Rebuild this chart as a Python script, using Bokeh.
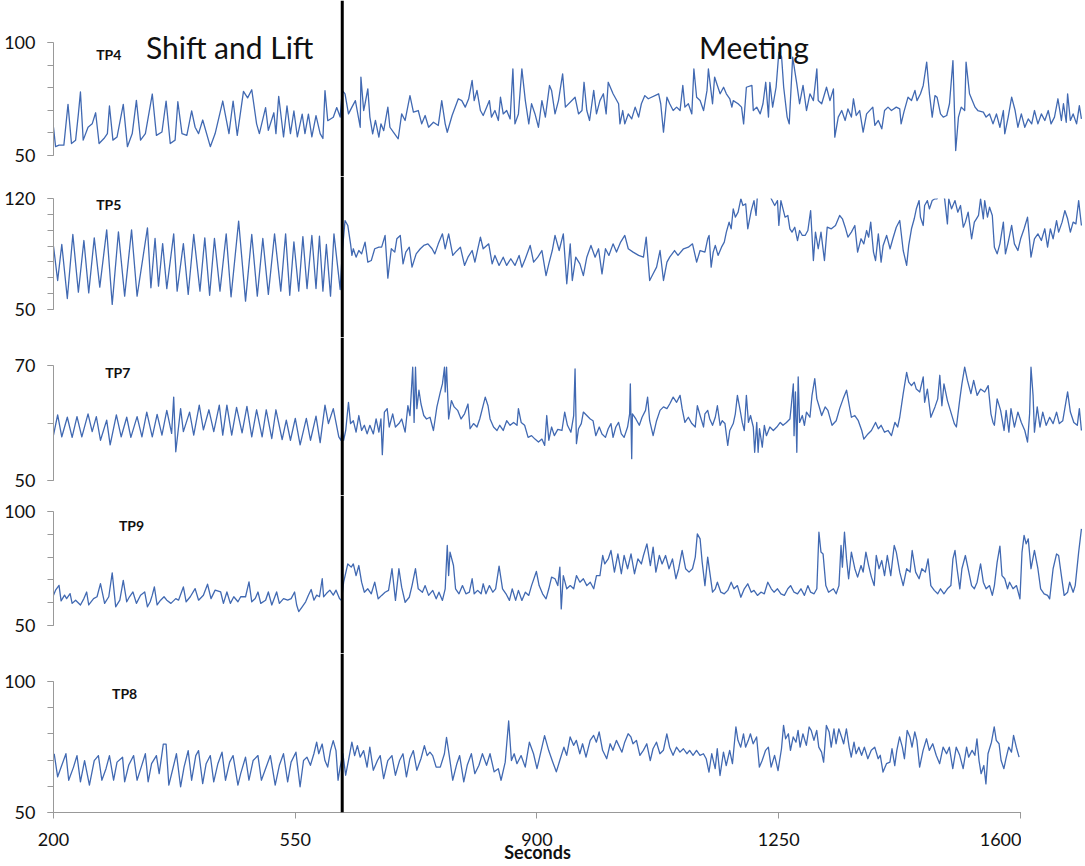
from bokeh.plotting import figure
from bokeh.models import Range1d, FixedTicker, Span, Label, BoxAnnotation
from bokeh.layouts import column
from bokeh.embed import file_html
from bokeh.resources import INLINE

# ---------------- data (seconds, value) ----------------
TP4 = [(200,62.5),(203,53.9),(208,54.6),(215,54.6),(220,69.7),(221,72.6),(226,55.3),(232,56.8),(236,68.3),(239,78.1),
(243,56.8),(250,62.5),(256,64.0),(261,68.9),(266,55.3),(273,57.5),(278,59.7),(281,71.9),(286,56.8),(292,58.2),
(301,72.6),(307,53.9),(314,59.7),(320,74.4),(326,56.8),(333,59.7),(343,77.2),(349,58.9),(357,60.4),(363,74.1),
(369,55.3),(376,56.8),(380,73.8),(386,59.7),(393,58.9),(400,69.7),(405,62.5),(410,59.7),(416,65.7),(427,53.9),
(434,59.7),(445,74.1),(454,59.7),(460,74.1),(466,58.9),(475,78.4),(481,75.5),(487,79.1),(494,64.0),(498,59.7),
(507,71.2),(511,61.1),(519,68.9),(522,59.7),(526,76.2),(533,58.2),(538,71.9),(543,59.7),(548,69.7),(553,58.2),
(560,68.3),(564,59.7),(569,68.3),(574,58.2),(580,67.6),(586,59.7),(590,57.5),(593,78.7),(597,65.4),(605,66.9),
(610,71.2),(615,67.0),(618,78.8),(622,77.3),(627,68.4),(632,71.4),(637,74.3),(644,62.5),(645,84.7),(649,69.9),
(651,72.9),(655,79.5),(658,67.0),(662,59.6),(666,65.5),(671,58.1),(674,64.0),(678,61.0),(684,71.4),(687,62.5),
(692,60.3),(699,57.4),(704,68.4),(709,65.5),(716,76.5),(721,69.2),(728,69.9),(733,64.0),(738,67.7),(743,62.5),
(750,64.7),(757,63.3),(762,74.3),(767,64.0),(770,60.3),(777,67.7),(786,75.1),(791,74.3),(796,71.4),(801,75.1),
(806,83.2),(809,74.3),(813,78.8),(818,69.9),(822,67.7),(827,71.4),(831,74.3),(834,67.0),(839,69.9),(844,65.5),
(847,75.8),(851,68.4),(856,69.9),(861,66.2),(865,88.3),(868,64.0),(873,68.4),(878,88.3),(883,74.3),(888,64.0),
(892,72.9),(897,68.4),(902,62.5),(907,74.3),(912,67.0),(918,81.0),(921,78.8),(926,68.4),(931,74.3),(937,86.1),
(941,71.4),(955,75.8),(960,68.4),(965,69.9),(968,82.4),(972,69.9),(976,65.5),(982,78.8),(986,68.4),(991,74.3),
(996,77.3),(1000,68.4),(1003,82.4),(1010,77.3),(1018,72.9),(1020,64.0),(1024,69.9),(1027,64.0),(1032,68.4),(1037,66.2),
(1042,71.4),(1047,67.0),(1051,72.9),(1056,76.5),(1061,75.1),(1076,77.3),(1079,72.9),(1083,60.3),(1088,75.8),(1092,72.9),
(1097,69.9),(1102,71.4),(1107,69.9),(1111,81.0),(1114,71.4),(1119,72.9),(1124,68.4),(1127,88.3),(1131,75.8),
(1136,74.3),(1141,69.9),(1146,78.8),(1148,88.3),(1150,83.2),(1154,72.9),(1157,84.7),(1161,81.0),(1165,77.3),(1170,80.2),
(1174,77.3),(1179,75.1),(1182,71.4),(1184,74.3),(1191,72.9),(1196,71.4),(1199,64.0),(1203,80.2),(1211,81.0),(1213,69.9),
(1218,71.4),(1223,68.4),(1227,72.9),(1231,82.4),(1235,67.0),(1237,82.4),(1241,71.4),(1246,80.2),(1250,95.7),(1254,93.5),
(1257,80.2),(1262,67.0),(1265,64.0),(1270,93.5),(1276,81.7),(1280,72.9),(1285,81.0),(1290,69.9),(1295,77.3),(1300,74.3),
(1305,88.3),(1307,74.3),(1312,72.9),(1319,80.2),(1324,74.3),(1329,79.5),(1331,58.1),(1336,67.0),(1341,69.9),(1346,65.5),
(1350,70.6),(1355,67.0),(1358,75.1),(1362,67.7),(1367,69.9),(1372,60.3),(1377,68.4),(1386,71.4),(1389,63.3),(1394,65.5),
(1399,61.8),(1403,69.9),(1408,71.4),(1413,69.9),(1420,71.4),(1425,70.6),(1427,64.0),(1431,69.2),(1437,75.8),(1442,74.3),
(1447,78.8),(1450,74.3),(1455,77.3),(1459,81.0),(1464,91.3),(1468,77.3),(1472,67.0),(1476,76.5),(1479,75.8),(1484,68.4),
(1488,67.0),(1493,67.7),(1497,72.9),(1502,92.0),(1506,52.2),(1510,67.0),(1514,71.4),(1519,69.9),(1521,91.3),(1526,77.3),
(1530,74.3),(1534,71.4),(1538,69.9),(1546,69.2),(1550,67.0),(1555,68.4),(1560,64.0),(1565,68.4),(1570,62.5),(1575,69.9),
(1577,59.6),(1582,67.0),(1587,75.8),(1592,69.9),(1596,62.5),(1601,68.4),(1606,62.5),(1611,66.2),(1616,64.0),(1620,69.9),
(1625,64.0),(1630,68.4),(1635,65.5),(1640,69.9),(1644,64.0),(1649,67.0),(1654,75.1),(1659,65.5),(1662,72.9),(1666,64.7),
(1668,77.3),(1672,65.5),(1676,68.4),(1681,64.0),(1685,72.1),(1688,66.2)]

TP5 = [(200,89.9),(206,68.3),(212,91.0),(220,56.9),(228,97.3),(236,60.9),(244,93.5),(251,60.5),(259,95.2),(267,64.1),
(277,100.2),(285,53.2),(294,99.0),(303,58.4),(313,100.2),(321,58.4),(336,101.5),(341,63.7),(347,94.8),(352,64.7),
(358,91.6),(364,63.2),(374,97.7),(379,61.6),(388,91.6),(395,59.5),(403,97.3),(412,61.6),(419,95.2),(426,59.0),
(433,94.8),(441,61.6),(450,97.7),(457,58.0),(468,105.7),(478,55.3),(487,97.3),(495,58.4),(503,94.8),(511,59.5),
(520,97.7),(529,61.6),(536,97.7),(542,59.0),(548,92.7),(555,61.6),(561,96.0),(567,63.2),(574,96.7),(580,63.2),
(585,96.2),(590,61.6),(595,91.0),(601,58.4),(606,97.7),(615,62.6),
(618,86.2),(622,106.1),(626,103.0),(630,91.4),(632,84.1),(634,88.3),(638,83.0),(642,87.2),(646,85.1),(651,92.5),
(655,79.9),(660,80.9),(665,88.3),(671,89.3),(675,89.3),(680,96.7),(684,69.8),(689,88.3),(694,86.2),(697,94.6),
(702,96.7),(706,78.8),(710,86.2),(715,89.3),(719,76.7),(725,85.1),(731,88.3),(736,90.4),(742,91.4),(748,88.3),
(752,85.1),(757,91.4),(763,97.7),(767,88.3),(772,97.7),(778,84.1),(782,86.2),(789,89.3),(795,77.8),(800,83.0),
(806,87.2),(810,79.9),(818,95.6),(822,88.3),(830,91.4),(835,78.8),(839,84.1),(845,77.8),(851,83.0),(856,77.8),
(862,82.0),(868,77.8),(874,84.1),(878,76.7),(883,82.0),(890,90.4),(895,79.9),(901,83.0),(907,87.2),(913,71.4),
(917,78.8),(922,87.2),(926,96.7),(932,87.2),(938,97.7),(943,66.2),(948,91.4),(951,68.3),(956,83.0),(962,78.8),
(967,71.4),(972,83.0),(978,90.4),(984,83.0),(989,88.3),(994,72.5),(999,88.3),(1004,84.1),(1010,91.4),(1015,86.2),
(1021,92.5),(1027,96.7),(1032,88.3),(1039,86.2),(1047,84.1),(1054,83.0),(1058,95.6),(1063,68.3),(1068,72.5),(1073,76.7),
(1078,87.2),(1083,68.3),(1088,79.9),(1092,83.0),(1099,87.2),(1104,84.1),(1112,88.3),(1119,89.3),(1125,91.4),(1131,79.9),
(1136,87.2),(1143,86.2),(1147,94.6),(1149,96.7),(1152,76.7),(1155,86.2),(1158,90.4),(1162,84.1),(1167,89.3),(1171,92.5),
(1174,98.8),(1178,105.1),(1181,100.9),(1184,113.5),(1187,108.2),(1191,111.4),(1195,119.8),(1198,115.6),(1202,116.6),(1205,100.9),
(1210,112.4),(1214,118.7),(1217,109.3),(1219,122.0),(1224,126.0),(1230,127.0),(1236,124.0),(1239,119.8),(1244,115.6),(1248,118.7),
(1250,103.0),(1253,118.7),(1256,113.5),(1259,108.2),(1263,109.3),(1266,100.9),(1269,98.8),(1273,101.9),(1277,93.5),(1280,99.8),
(1284,96.7),(1288,96.7),(1292,99.8),(1296,112.4),(1300,80.9),(1303,98.8),(1307,88.3),(1311,98.8),(1316,80.9),(1320,101.9),
(1326,100.9),(1332,103.0),(1338,109.3),(1342,107.2),(1346,101.9),(1350,95.6),(1355,98.8),(1360,103.0),(1364,86.2),(1369,94.6),
(1373,91.4),(1377,99.8),(1380,95.6),(1383,105.1),(1387,86.2),(1390,80.9),(1394,97.7),(1398,79.9),(1401,90.4),(1406,96.7),
(1411,88.3),(1415,94.6),(1420,101.9),(1425,106.1),(1430,87.2),(1435,77.8),(1438,90.4),(1442,100.9),(1446,107.2),(1449,113.5),
(1453,118.7),(1455,108.2),(1459,103.0),(1461,115.6),(1465,118.7),(1468,113.5),(1472,118.7),(1476,119.8),(1479,119.8),(1482,123.0),
(1486,124.0),(1490,119.8),(1494,104.0),(1496,119.8),(1500,113.5),(1505,118.7),(1509,111.4),(1513,115.6),(1517,101.9),(1520,105.1),
(1524,111.4),(1529,94.6),(1533,105.1),(1536,107.2),(1539,109.3),(1542,119.8),(1546,107.2),(1548,118.7),(1552,108.2),(1555,114.5),
(1559,109.3),(1562,89.3),(1566,85.1),(1570,91.4),(1575,105.1),(1578,85.1),(1582,92.5),(1587,103.0),(1591,91.4),(1596,87.2),
(1600,94.6),(1605,100.9),(1610,108.2),(1615,83.0),(1620,94.6),(1625,97.7),(1630,93.5),(1635,100.9),(1639,89.3),(1643,100.9),
(1647,94.6),(1652,106.1),(1655,98.8),(1660,105.1),(1664,112.4),(1668,107.2),(1672,98.8),(1676,105.1),(1680,104.0),(1684,118.7),
(1688,103.0)]

TP7 = [(200,57.9),(206,61.4),(212,57.6),(220,61.0),(227,57.5),(234,61.1),(241,57.6),(250,61.6),(256,58.5),(262,61.1),
(268,57.0),(277,60.5),(282,56.2),(291,61.4),(298,57.6),(306,61.0),(312,57.5),(321,61.1),(328,57.6),(335,61.9),
(343,57.6),(350,61.5),(357,57.9),(364,62.2),(371,58.2),(374,64.5),(377,55.0),(384,62.5),(388,58.5),(397,61.9),
(403,57.9),(411,63.1),(417,58.8),(425,62.3),(432,58.5),(440,63.1),(445,57.9),(451,63.1),(458,57.9),(465,62.7),
(473,58.3),(480,62.9),(487,57.6),(494,62.3),(502,57.6),(508,62.3),(516,57.3),(522,62.3),(531,57.1),(537,60.5),
(543,57.0),(550,60.8),(557,56.2),(566,60.8),(572,57.0),(580,61.2),(586,56.6),(593,63.1),(598,59.9),(605,62.5),
(613,57.6),(616,57.0),
(618,59.0),(620,57.0),(623,58.7),(627,63.6),(630,59.9),(634,60.4),(638,58.4),(642,61.3),(646,58.7),(650,59.6),
(654,58.1),(658,59.6),(663,58.1),(667,60.7),(671,58.4),(674,60.7),(676,54.5),(679,61.9),(683,62.5),(686,59.3),
(691,61.6),(695,59.3),(700,59.9),(704,60.7),(709,58.4),(713,63.0),(716,61.3),(720,69.7),(722,60.1),(724,69.7),
(726,62.5),(729,65.7),(732,63.3),(736,61.3),(740,60.7),(745,61.0),(750,58.7),(755,62.8),(760,65.4),(763,66.8),
(766,69.7),(767,65.4),(769,69.7),(772,60.7),(776,63.9),(780,62.8),(785,62.2),(790,60.7),(795,61.6),(800,63.3),
(803,59.0),(808,59.9),(813,59.3),(817,60.7),(825,64.5),(829,63.0),(832,60.7),(837,59.3),(842,58.7),(846,59.6),
(851,58.7),(856,60.4),(861,59.6),(866,60.1),(871,59.6),(873,62.5),(877,60.1),(882,59.6),(887,57.5),(892,57.8),
(897,57.2),(902,56.7),(907,57.2),(911,56.1),(914,61.3),(917,57.0),(921,59.3),(925,57.8),(930,58.9),(936,58.7),
(940,61.9),(944,59.6),(949,58.4),(953,61.3),(955,69.4),(957,56.4),(960,59.0),(964,59.9),(967,61.9),(972,61.3),
(977,60.7),(981,60.4),(985,57.8),(990,59.3),(994,58.1),(999,57.5),(1003,59.0),(1007,59.9),(1010,57.5),(1014,59.3),
(1018,60.1),(1022,58.1),(1026,57.5),(1031,59.3),(1034,61.6),(1035,66.8),(1037,53.8),(1038,61.6),(1043,60.7),(1048,59.6),
(1052,61.0),(1057,62.2),(1060,64.5),(1063,60.4),(1068,57.8),(1073,60.4),(1078,62.2),(1083,62.8),(1088,62.5),(1092,63.3),
(1097,64.5),(1102,63.6),(1107,64.8),(1110,62.5),(1114,60.1),(1119,61.0),(1124,59.9),(1129,59.3),(1132,63.0),(1136,61.3),
(1141,59.3),(1143,61.6),(1147,62.2),(1150,60.7),(1154,59.6),(1158,61.0),(1161,63.0),(1165,59.6),(1168,60.4),(1172,59.9),
(1176,56.1),(1179,58.7),(1184,59.9),(1187,61.6),(1190,64.8),(1194,62.2),(1197,60.1),(1200,58.7),(1203,64.8),(1206,60.1),
(1209,61.3),(1213,59.3),(1215,54.9),(1218,60.1),(1220,54.9),(1222,59.0),(1226,55.8),(1229,59.6),(1232,57.8),(1237,59.3),
(1242,58.7),(1247,59.3),(1252,60.1),(1256,59.6),(1261,60.1),(1266,60.7),(1268,63.0),(1271,66.8),(1272,57.8),(1274,65.4),
(1276,54.9),(1278,68.0),(1280,60.1),(1284,61.3),(1287,59.6),(1290,61.9),(1295,61.0),(1298,64.8),(1302,67.7),(1305,64.2),
(1308,63.0),(1312,61.3),(1317,62.8),(1321,62.2),(1327,59.6),(1333,60.4),(1338,62.5),(1343,64.2),(1348,65.7),(1352,63.0),
(1355,61.0),(1360,61.3),(1365,60.4),(1370,58.7),(1373,57.2),(1379,58.1),(1384,58.7),(1390,60.1),(1394,59.0),(1398,59.6),
(1403,58.4),(1408,58.7),(1413,57.8),(1418,60.1),(1422,59.3),(1425,61.0),(1430,65.1),(1435,68.8),(1438,67.1),(1442,66.5),
(1446,67.1),(1449,65.9),(1454,65.4),(1459,68.0),(1461,63.6),(1465,65.9),(1470,61.0),(1476,62.8),(1480,64.2),(1483,68.3),
(1486,63.0),(1489,66.8),(1494,63.9),(1499,61.9),(1504,59.9),(1507,59.3),(1512,64.2),(1515,66.8),(1519,69.7),(1523,67.4),
(1528,65.1),(1532,67.4),(1537,64.8),(1542,65.9),(1548,65.4),(1553,66.5),(1557,61.6),(1560,60.1),(1562,59.6),(1566,64.2),
(1571,62.2),(1576,58.7),(1579,62.2),(1583,58.4),(1586,62.5),(1591,59.3),(1596,61.9),(1601,60.1),(1606,58.7),(1610,56.7),
(1613,61.6),(1615,69.7),(1618,64.8),(1620,58.4),(1624,62.8),(1628,59.3),(1632,61.9),(1637,59.6),(1642,61.0),(1647,59.9),
(1652,61.9),(1656,59.9),(1661,60.4),(1668,65.4),(1672,61.9),(1677,60.1),(1682,59.6),(1685,62.5),(1688,58.7)]

TP9 = [(200,63.3),(203,65.5),(208,67.6),(211,60.8),(216,63.3),(219,61.8),(224,64.0),(227,59.7),(232,61.1),(239,59.0),
(244,61.8),(248,64.7),(251,59.0),(258,61.8),(263,62.6),(268,68.4),(274,59.7),(280,62.6),(285,73.1),(290,58.2),
(296,61.1),(301,69.8),(306,60.4),(310,62.6),(315,64.7),(320,59.7),(326,63.3),(332,64.7),(336,58.2),(340,60.4),
(343,63.3),(346,66.9),(350,59.0),(355,61.1),(360,62.6),(364,61.1),(370,59.7),(377,61.8),(381,61.1),(388,66.9),
(392,60.4),(398,62.6),(405,66.2),(410,61.1),(417,63.3),(423,68.1),(428,61.8),(434,65.5),(442,64.7),(446,59.7),
(451,64.7),(456,59.7),(461,62.6),(467,60.4),(471,62.6),(478,62.6),(483,69.1),(487,60.4),(492,61.8),(496,64.7),
(500,59.7),(507,61.1),(511,64.7),(516,59.0),(523,64.7),(527,59.7),(533,61.8),(539,61.1),(544,61.8),(549,64.7),
(552,59.0),(555,56.1),(560,58.2),(565,60.4),(569,63.3),(573,65.8),(577,61.1),(581,63.3),(585,62.6),(589,70.5),
(591,62.6),(595,64.0),(600,65.5),(605,63.3),(609,65.5),(614,61.8),
(617,61.0),(620,69.0),(626,77.0),(631,75.6),(634,77.0),(638,71.9),(642,76.3),(646,69.0),(650,64.6),(655,66.1),
(660,63.9),(665,69.0),(670,61.7),(675,63.2),(680,64.6),(685,65.4),(690,74.9),(695,61.0),(700,74.9),(704,66.8),
(709,60.2),(715,62.4),(719,67.5),(724,74.9),(728,66.1),(734,64.6),(738,67.5),(743,63.2),(749,65.4),(754,61.7),
(758,64.6),(763,61.0),(767,66.1),(770,85.1),(772,71.9),(774,82.2),(779,76.3),(782,66.1),(787,63.9),(792,67.5),
(797,63.9),(802,64.6),(806,70.5),(809,63.9),(814,65.4),(819,63.9),(822,68.3),(826,63.9),(831,67.5),(836,64.6),
(840,66.1),(845,76.0),(850,66.1),(855,63.9),(860,61.0),(864,66.1),(869,61.0),(873,65.4),(878,61.0),(883,64.6),
(888,63.2),(892,67.5),(899,73.7),(903,67.5),(908,63.9),(913,61.7),(917,66.1),(921,71.2),(926,70.5),(930,67.5),
(933,75.6),(935,57.3),(938,71.9),(943,66.1),(948,67.5),(953,66.1),(957,71.9),(962,69.0),(967,70.5),(972,67.5),
(977,69.0),(982,66.1),(986,71.9),(991,71.9),(995,80.7),(998,77.0),(1003,79.2),(1007,82.9),(1012,73.4),(1017,81.4),
(1022,72.7),(1026,80.7),(1031,74.9),(1036,81.4),(1041,72.7),(1046,79.2),(1051,77.0),(1054,80.7),(1059,85.8),(1064,76.3),
(1068,84.4),(1072,73.4),(1077,80.7),(1081,77.0),(1086,80.7),(1091,74.9),(1096,79.2),(1101,70.5),(1105,74.9),(1110,82.9),
(1115,74.9),(1120,73.4),(1125,74.9),(1129,80.0),(1132,90.2),(1136,88.0),(1139,77.8),
(1143,67.5),(1147,80.0),(1150,73.4),(1154,64.6),(1158,66.1),(1161,69.0),(1166,64.6),(1171,63.9),(1176,65.4),(1181,69.0),
(1185,66.1),(1190,67.5),(1195,62.4),(1200,66.1),(1205,68.3),(1210,64.6),(1214,65.4),(1219,63.2),(1224,64.6),(1229,63.9),
(1234,69.0),(1239,66.1),(1243,64.6),(1248,66.1),(1253,63.9),(1258,63.2),(1263,66.1),(1267,67.5),(1272,64.6),(1277,63.9),
(1282,66.1),(1287,63.2),(1292,67.5),(1296,64.6),(1301,63.9),(1305,66.1),(1308,90.9),(1311,82.2),(1314,81.4),(1318,67.5),
(1322,64.6),(1329,66.1),(1333,63.9),(1337,67.5),(1340,85.1),(1342,75.6),(1345,90.9),(1348,79.2),(1351,70.5),(1355,82.2),
(1360,74.9),(1364,71.2),(1369,76.3),(1372,73.4),(1376,82.2),(1380,76.3),(1384,71.2),(1388,67.5),(1391,80.7),(1395,74.9),
(1399,78.5),(1403,71.9),(1407,80.7),(1412,71.9),(1417,85.1),(1420,82.2),(1425,73.4),(1430,67.5),(1435,74.9),(1440,73.4),
(1443,82.9),(1448,73.4),(1453,70.5),(1457,74.9),(1462,73.4),(1466,79.2),(1470,67.5),(1475,65.4),(1480,63.9),(1484,66.1),
(1489,63.9),(1494,66.1),(1499,67.5),(1502,79.2),(1505,82.9),(1508,74.9),(1512,66.1),(1515,74.9),(1520,80.7),(1525,73.4),
(1529,67.5),(1533,66.1),(1537,69.0),(1542,77.0),(1546,69.0),(1550,66.1),(1555,67.5),(1559,63.2),(1562,67.5),(1566,77.8),
(1570,84.8),(1573,71.9),(1577,70.5),(1581,66.1),(1584,69.0),(1589,66.1),(1594,67.5),(1599,61.7),(1602,82.2),(1605,89.5),
(1608,85.8),(1611,88.0),(1615,74.9),(1620,82.9),(1625,74.9),(1629,66.1),(1634,63.9),(1639,63.2),(1642,61.7),(1647,74.9),
(1652,81.4),(1655,80.7),(1659,71.9),(1663,63.2),(1668,64.6),(1671,69.0),(1676,64.6),(1679,67.5),(1684,82.2),(1688,92.4)]

TP8 = [(201,72.4),(206,63.6),(212,68.0),(218,72.4),(222,62.3),(229,67.3),(234,71.7),(239,61.7),(245,69.8),(252,60.4),
(259,69.8),(265,71.7),(270,62.3),(276,66.7),(281,71.7),(287,62.3),(292,69.2),(300,71.1),(303,61.7),(309,68.1),
(316,71.7),(321,62.3),(327,67.3),(333,72.4),(337,61.7),(342,68.6),(349,71.7),(353,64.8),(359,76.1),(363,76.1),
(367,60.4),(374,68.0),(378,72.4),(384,59.8),(389,67.3),(395,73.6),(400,62.3),(406,71.7),(410,73.6),(416,61.0),
(421,68.6),(427,71.7),(432,61.7),(438,68.6),(444,73.0),(449,62.3),(455,69.2),(460,71.7),(467,60.4),(471,64.8),
(478,71.1),(483,62.3),(489,69.8),(496,71.7),(501,62.3),(507,66.7),(514,71.7),(521,60.4),(527,68.0),(533,72.4),
(539,61.7),(544,69.2),(551,73.0),(557,59.8),(562,69.8),(567,71.1),(572,68.0),(577,72.4),(581,76.8),(584,72.4),
(589,76.1),(593,69.8),(597,67.3),(601,73.6),(605,77.4),(609,73.6),(612,62.3),(615,67.3),(619,72.4),(623,64.2),
(627,69.8),(632,76.8),(636,71.7),(640,75.5),(644,71.1),(649,73.6),(654,67.3),(658,74.9),(663,66.1),(669,69.8),
(673,71.7),(678,62.9),(684,69.8),(690,71.7),(695,64.2),(701,69.8),(706,72.4),(711,63.6),(716,70.5),(721,73.6),
(726,66.1),(732,70.5),(737,75.5),(741,71.7),(745,73.0),(749,71.7),(754,67.3),(760,67.3),(766,72.4),(769,78.6),
(773,71.7),(778,62.3),(784,68.6),(788,71.7),(794,61.7),(799,68.0),(805,72.4),(810,64.8),(816,68.0),(821,72.4),
(827,68.0),(832,72.4),(838,65.5),(844,66.7),(848,62.3),(854,69.2),(859,84.9),(863,69.8),(867,72.4),(871,68.6),
(877,71.7),(883,67.3),(889,76.8),(895,72.4),(900,66.7),(906,73.6),(911,79.3),(917,73.6),(922,69.8),(928,65.5),
(933,69.8),(939,74.9),(943,71.8),(948,78.8),(953,75.6),(957,77.5),(962,72.4),(966,76.2),(971,71.1),(977,77.5),
(982,79.4),(986,76.8),(990,80.7),(995,73.7),(1001,70.5),(1006,76.2),(1010,73.7),(1015,77.5),(1023,73.0),(1027,76.8),
(1032,80.0),(1036,78.8),(1039,76.2),(1044,77.5),(1049,71.8),(1054,73.7),(1059,76.2),(1064,69.8),(1068,74.3),(1073,76.8),
(1078,72.4),(1083,73.7),(1088,80.0),(1092,74.9),(1097,71.8),(1102,74.9),(1107,73.0),(1112,74.3),(1117,72.4),(1121,73.7),
(1126,71.8),(1131,73.7),(1136,71.8),(1141,72.4),(1145,70.5),(1149,65.4),(1153,72.4),(1158,66.7),(1161,74.3),(1165,64.1),
(1170,73.0),(1174,67.9),(1179,73.7),(1183,68.6),(1188,82.6),(1191,77.5),(1195,74.9),(1199,80.0),(1202,74.9),(1206,77.5),
(1209,80.0),(1213,76.2),(1218,78.8),(1222,67.3),(1226,69.8),(1231,73.7),(1235,74.9),(1239,67.3),(1244,71.8),(1249,66.0),
(1254,74.3),(1257,83.2),(1260,78.1),(1264,80.0),(1267,73.7),(1271,78.8),(1275,76.8),(1278,81.3),(1281,74.9),(1285,80.0),
(1290,75.6),(1294,82.6),(1297,81.3),(1301,77.5),(1305,81.3),(1308,74.9),(1312,73.0),(1315,69.2),(1319,83.2),(1323,80.7),
(1326,74.9),(1330,81.9),(1333,76.2),(1337,81.9),(1341,78.8),(1344,76.2),(1348,81.9),(1352,74.9),(1355,71.1),(1359,76.8),
(1362,72.4),(1366,74.9),(1370,71.8),(1374,74.9),(1379,70.5),(1384,73.7),(1389,74.9),(1394,70.5),(1397,71.8),(1401,65.4),
(1406,68.6),(1411,69.2),(1414,74.3),(1418,67.9),(1421,73.7),(1425,78.8),(1429,74.9),(1432,70.5),(1436,81.3),(1440,78.8),
(1443,74.9),(1447,80.7),(1450,77.5),(1454,67.3),(1459,73.7),(1464,78.1),(1468,73.7),(1473,76.2),(1478,71.8),(1483,68.6),
(1488,74.9),(1493,72.4),(1497,74.9),(1502,66.7),(1507,74.9),(1512,71.8),(1517,66.7),(1522,74.9),(1525,71.1),(1530,73.7),
(1534,71.8),(1537,78.1),(1540,69.8),(1543,64.8),(1547,67.9),(1550,60.9),(1553,72.4),(1558,76.8),(1562,82.6),(1565,77.5),
(1569,76.2),(1572,69.8),(1576,66.7),(1579,70.5),(1583,74.9),(1587,73.0),(1590,79.4),(1594,74.9),(1598,71.1)]

X_TICKS = [200, 550, 900, 1250, 1600]
X_END = 1691          # right edge of the upper panels (seconds)
X_END_BOTTOM = 1601.5 # right edge of the bottom panel (its axis stops at 1600)
EVENT_SECONDS = 618
PHASES = [("Shift and Lift", 455), ("Meeting", 1214)]
X_LABEL = "Seconds"

# name, series, axis min, axis max, label position (seconds, value)
PANELS = [
    ("TP4", TP4, 50, 100, (280, 94.6)),
    ("TP5", TP5, 50, 120, (280, 116.2)),
    ("TP7", TP7, 50, 70, (293, 68.8)),
    ("TP9", TP9, 50, 100, (313, 93.9)),
    ("TP8", TP8, 50, 100, (303, 95.4)),
]

# ---------------- layout (screen pixels) ----------------
# frame top / bottom, pixel of axis max / min
GEOM = [(0, 176, 42, 155), (176, 337, 198, 309), (337, 495, 365, 480),
        (495, 653, 511, 625), (653, 813, 681, 813)]
LEFT = 53
WIDTH = 1083
BOTTOM_BORDER = 52

LINE_COLOR = "#4169B2"
AXIS_COLOR = "#999999"
TEXT_COLOR = "#111111"
FONT = "Lato"

px_per_s = (WIDTH - LEFT) / (X_END - 200)
xr_top = Range1d(200, X_END)
xr_bottom = Range1d(200, X_END_BOTTOM)
width_bottom = LEFT + int(round((X_END_BOTTOM - 200) * px_per_s))

figs = []
for i, (name, series, lo, hi, (lx, ly)) in enumerate(PANELS):
    top, bot, hi_px, lo_px = GEOM[i]
    k = (lo_px - hi_px) / (hi - lo)
    y0 = lo - (bot - lo_px) / k
    y1 = hi + (hi_px - top) / k
    last = i == len(PANELS) - 1
    h = (bot - top) + (BOTTOM_BORDER if last else 0)
    p = figure(width=width_bottom if last else WIDTH, height=h,
               x_range=xr_bottom if last else xr_top, y_range=Range1d(y0, y1),
               output_backend="svg", toolbar_location=None,
               x_axis_location="below" if last else None,
               min_border_left=LEFT, min_border_right=0, min_border_top=0,
               min_border_bottom=BOTTOM_BORDER if last else 0)
    p.outline_line_color = None
    p.xgrid.visible = False
    p.ygrid.visible = False

    ya = p.yaxis[0]
    ya.ticker = FixedTicker(ticks=[lo, hi], minor_ticks=list(range(lo, hi + 1, 10)))
    ya.bounds = (lo, hi)
    ya.axis_line_color = AXIS_COLOR
    ya.major_tick_line_color = AXIS_COLOR
    ya.minor_tick_line_color = AXIS_COLOR
    ya.major_tick_out = 6
    ya.major_tick_in = 0
    ya.minor_tick_out = 6
    ya.minor_tick_in = 0
    ya.major_label_standoff = 12
    ya.major_label_text_font = FONT
    ya.major_label_text_font_size = "18px"
    ya.major_label_text_color = TEXT_COLOR

    if last:
        xa = p.xaxis[0]
        xa.ticker = FixedTicker(ticks=X_TICKS, minor_ticks=[])
        xa.axis_line_color = AXIS_COLOR
        xa.major_tick_line_color = AXIS_COLOR
        xa.major_tick_out = 6
        xa.major_tick_in = 0
        xa.minor_tick_line_color = None
        xa.major_label_standoff = 14
        xa.major_label_text_font = FONT
        xa.major_label_text_font_size = "18px"
        xa.major_label_text_color = TEXT_COLOR
        xa.axis_label = X_LABEL
        xa.axis_label_text_font = FONT
        xa.axis_label_text_font_style = "bold"
        xa.axis_label_text_font_size = "18px"
        xa.axis_label_text_color = TEXT_COLOR
        xa.axis_label_standoff = -8

    xs = [s for s, v in series]
    vs = [v for s, v in series]
    p.line(xs, vs, line_color=LINE_COLOR, line_width=1.3, line_join="round")

    # values above the axis maximum are cut off, as in the original
    p.add_layout(BoxAnnotation(bottom=hi, fill_color="white", fill_alpha=1.0,
                               line_alpha=0, level="annotation"))

    p.add_layout(Label(x=lx, y=ly, text=name, text_align="center",
                       text_baseline="middle", text_font=FONT,
                       text_font_style="bold", text_font_size="14px",
                       text_color=TEXT_COLOR))

    if i == 0:
        for txt, sx in PHASES:
            p.add_layout(Label(x=sx, y=98.2, text=txt, text_align="center",
                               text_baseline="alphabetic", text_font=FONT,
                               text_font_size="30px", text_color=TEXT_COLOR))

    p.add_layout(Span(location=EVENT_SECONDS, dimension="height",
                      line_color="black", line_width=3, level="overlay"))
    figs.append(p)

layout = column(*figs)
open("out.html", "w").write(file_html(layout, INLINE))
